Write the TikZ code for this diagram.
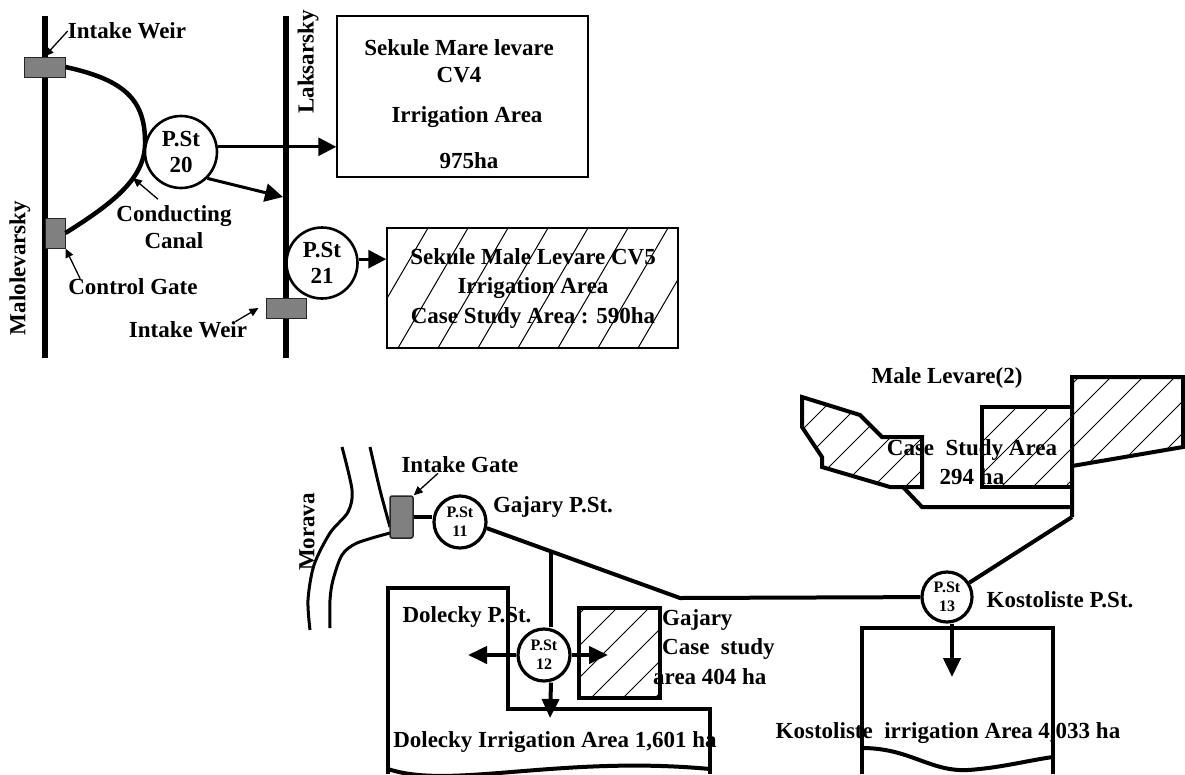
\documentclass[tikz,border=0pt]{standalone}
\usepackage{fontspec}
\setmainfont{Liberation Serif}
\usetikzlibrary{arrows.meta}

\tikzset{
  txt/.style={font=\bfseries\fontsize{23}{29}\selectfont, inner sep=0pt, align=center},
  river/.style={line width=6pt},
  canal/.style={line width=4.5pt},
  bank/.style={line width=3pt},
  gate/.style={draw=black!85, fill=black!50, line width=1pt, inner sep=0pt},
  pst/.style={circle, draw, fill=white, line width=2.6pt, inner sep=0pt, align=center, minimum size=72pt, font=\bfseries\fontsize{23}{26}\selectfont},
  spst/.style={pst, minimum size=52pt, line width=3.2pt, font=\bfseries\fontsize{16}{19}\selectfont},
  feed/.style={line width=3pt, -{Triangle[length=18pt,width=18pt]}},
  feedB/.style={line width=4pt, -{Triangle[length=19pt,width=17pt]}},
  ptr/.style={line width=1.3pt, -{Triangle[length=9pt,width=8pt]}},
  pipe/.style={line width=4pt},
  wall/.style={line width=4pt, line join=miter},
  hatch/.style={line width=1pt},
}

\begin{document}
\begin{tikzpicture}[x=1pt, y=-1pt, line cap=butt]
  \useasboundingbox (0,0) rectangle (1185,774);
  % upper scheme
  \coordinate (mtop) at (45,16); \coordinate (mbot) at (45,358);
  \coordinate (ltop) at (286,16); \coordinate (lbot) at (286,358);
  \draw[river] (mtop) -- (mbot);
  \draw[river] (ltop) -- (lbot);
  \node[gate, minimum width=41pt, minimum height=20pt] (weirA) at (44.5,67) {};
  \node[gate, minimum width=20pt, minimum height=30pt] (ctrl) at (55,233) {};
  \node[gate, minimum width=40pt, minimum height=20pt] (weirB) at (286,308) {};
  \draw[canal] (weirA.east) .. controls (125,80) and (146,100) .. (145,145)
    .. controls (144,180) and (110,205) .. (ctrl.east);
  \node[pst] (p20) at (181,152) {P.St\\20};
  \node[pst, minimum size=71pt] (p21) at (322,263) {P.St\\21};
  \node[txt, rotate=90] (laks) at (308,62) {Laksarsky};
  \node[txt, rotate=90] (malo) at (20,268) {Malolevarsky};

  \node[draw, line width=1.5pt, minimum width=251pt, minimum height=161pt] (cv4) at (462.5,96.5) {};
  \node[txt] (cv4a) at (459,48) {Sekule Mare levare};
  \node[txt] (cv4b) at (459,75) {CV4};
  \node[txt] (cv4c) at (467,117) {Irrigation Area};
  \node[txt] (cv4d) at (469,161) {975ha};

  \node[draw, line width=1.5pt, minimum width=291pt, minimum height=120pt] (cv5) at (532.5,288) {};
  \begin{scope}
    \clip (387,228) rectangle (678,348);
    \foreach \x in {318,358,...,718} \draw[hatch] (\x,348) -- ++(70,-120);
  \end{scope}
  \node[txt, font=\bfseries\fontsize{23}{29.5}\selectfont] (cv5t) at (533,288)
    {Sekule Male Levare CV5\\Irrigation Area\\Case Study Area : 590ha};

  \coordinate (lhit) at (283,197);
  \draw[feed] (p20.8) -- (cv4.west |- p20.8);
  \draw[feed] (p20.-45) -- (lhit);
  \draw[feed] (p21.6) -- (cv5.west |- p21.6);

  \node[txt] (lwA) at (127,31) {Intake Weir};
  \draw[ptr] (lwA.west) -- (weirA.north);
  \node[txt, font=\bfseries\fontsize{23}{27}\selectfont] (lcc) at (174,227) {Conducting\\Canal};
  \coordinate (ccpt) at (133,178);
  \draw[ptr] ([xshift=-16pt,yshift=6pt]lcc.north) -- (ccpt);
  \node[txt] (lcg) at (133,287) {Control Gate};
  \draw[ptr] ([xshift=12pt]lcg.north west) -- (ctrl.south east);
  \node[txt] (lwB) at (188,330) {Intake Weir};
  \draw[ptr] ([xshift=-12pt]lwB.north east) -- ([xshift=-7pt]weirB.west);

  % lower scheme
  \draw[bank] plot[smooth] coordinates {(342,447) (352,490) (348,512) (330,533) (314,565) (308,600) (310,630)};
  \draw[bank] plot[smooth] coordinates {(370,447) (380,490) (390,527)};
  \draw[bank] plot[smooth] coordinates {(390,533) (357,543) (342,555) (333,580) (330,600) (330,628)};
  \node[txt, rotate=90] (morava) at (307,532) {Morava};

  \node[gate, line width=1.5pt, rounded corners=2pt, minimum width=23pt, minimum height=42pt] (igate) at (401.5,517) {};
  \node[spst] (p11) at (460,522) {P.St\\11};
  \draw[pipe] (igate.east) -- (p11.west |- igate.east);
  \node[txt] (lig) at (460,465) {Intake Gate};
  \draw[ptr] ([xshift=-22pt]lig.south) -- (igate.north east);
  \node[txt] (lgp) at (553,507) {Gajary P.St.};

  \draw[wall] (388,774) -- (388,588) -- (508,588) -- (508,709) -- (710,709) -- (710,774);
  \draw[wall] (388,769) .. controls (450,790) and (560,755) .. (710,769);
  \draw[wall] (862,774) -- (862,628) -- (1053,628) -- (1053,774);
  \draw[wall] (862,748) .. controls (910,748) and (930,772) .. (968,770)
    .. controls (1000,768) and (1030,760) .. (1053,757);

  \node[draw, line width=4pt, minimum width=81pt, minimum height=90pt] (gsq) at (619.5,653) {};
  \begin{scope}
    \clip (579,608) rectangle (660,698);
    \foreach \c in {1193,1225,...,1385} \draw[hatch] ({\c-600},600) -- ({\c-710},710);
  \end{scope}

  \coordinate (bend) at (680,598);
  \node[spst, minimum size=50pt] (p13) at (947,597) {P.St\\13};
  \node[spst] (p12) at (544,655) {P.St\\12};
  \draw[pipe] (p11.-13) -- (bend) -- (p13);
  \path (p11.-13) -- (bend) coordinate[pos=0.332] (tee);
  \draw[pipe] (tee) -- (p12.north -| tee);

  \coordinate (dwest) at (468,655); \coordinate (deast) at (608,655); \coordinate (dsouth) at (550,718);
  \draw[feedB] (p12.west) -- (dwest);
  \draw[feedB] (p12.east) -- (deast);
  \draw[feedB] (p12.south -| tee) -- (dsouth);
  \coordinate (ktip) at (952,677);
  \draw[feedB] (p13.south -| ktip) -- (ktip);

  \node[txt] (dpst) at (467,617) {Dolecky P.St.};
  \node[txt] (dirr) at (555,742) {Dolecky Irrigation Area 1,601 ha};
  \node[txt, anchor=west] (gj1) at (662,620) {Gajary};
  \node[txt, anchor=west] (gj2) at (662,649) {Case\ \ study};
  \node[txt, anchor=west] (gj3) at (653,677) {area 404 ha};
  \node[txt] (kpst) at (1060,600) {Kostoliste P.St.};
  \node[txt] (kirr) at (948,733) {Kostoliste\ \ irrigation Area 4,033 ha};

  % Male Levare areas
  \def\leftpoly{(802,397) -- (860,415) -- (882,437) -- (922,437) -- (922,487) -- (890,487) -- (822,467) -- (822,457) -- (802,427) -- cycle}
  \begin{scope}
    \clip \leftpoly (982,407) rectangle (1072,487) (1072,377) -- (1183,377) -- (1183,447) -- (1072,466) -- cycle;
    \foreach \c in {1200,1232,...,1680} \draw[hatch] ({\c-370},370) -- ({\c-500},500);
  \end{scope}
  \draw[wall] \leftpoly;
  \draw[wall] (982,407) rectangle (1072,487);
  \coordinate (nej) at (1072,517);
  \draw[wall] (nej) -- (1072,377) -- (1183,377) -- (1183,447) -- (1072,466);
  \draw[wall] (903,487) -- (922,507) -- (1072,507);
  \draw[pipe] (p13) -- (nej);
  \node[txt] (mlv) at (947,378) {Male Levare(2)};
  \node[txt] (csa) at (972,462) {Case\ \ Study Area\\294 ha};
\end{tikzpicture}
\end{document}
